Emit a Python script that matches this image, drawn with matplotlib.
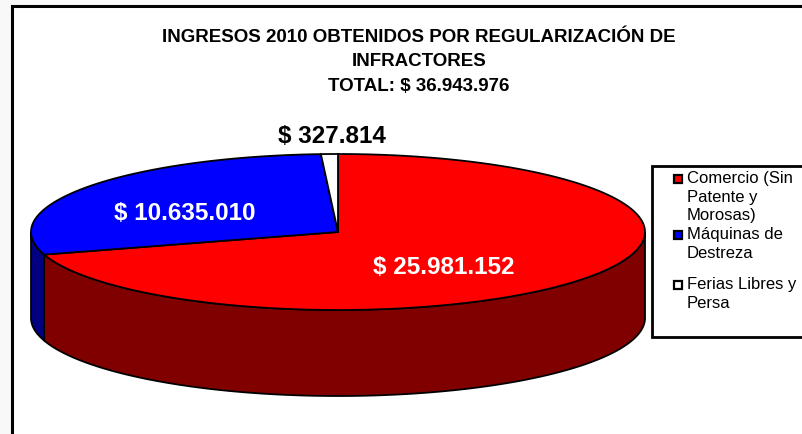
import numpy as np
import matplotlib
matplotlib.use('Agg')
import matplotlib.pyplot as plt
from matplotlib.patches import Polygon, Rectangle

plt.rcParams['font.family'] = ['Liberation Sans', 'DejaVu Sans']

# data
categories = ['Comercio (Sin\nPatente y\nMorosas)', 'Máquinas de\nDestreza', 'Ferias Libres y\nPersa']
values = [25981152, 10635010, 327814]
value_labels = ['$ 25.981.152', '$ 10.635.010', '$ 327.814']
top_colors = ['#FF0000', '#0000FF', '#FFFFFF']
side_colors = ['#800000', '#000080', '#C0C0C0']
title = 'INGRESOS 2010 OBTENIDOS POR REGULARIZACIÓN DE\nINFRACTORES\nTOTAL: $ 36.943.976'

# pie geometry in pixel units
cx, cy = 338, 233
rx, ry = 307, 78
depth = 86


def ellipse_pts(a0, a1, n=200):
    t = np.radians(np.linspace(a0, a1, n))
    return cx + rx * np.cos(t), cy - ry * np.sin(t)


fig = plt.figure(figsize=(8.03, 4.35), dpi=100, facecolor='#f8f8f8')
ax = fig.add_axes([0, 0, 1, 1])
ax.set_xlim(0, 803)
ax.set_ylim(435, 0)
ax.axis('off')

# chart frame
ax.add_patch(Rectangle((12, 7), 800, 440, facecolor='white', edgecolor='black',
                       linewidth=2.2, zorder=0))

total = sum(values)
start = 90.0
angles = []
for v in values:
    sweep = 360.0 * v / total
    angles.append((start - sweep, start))
    start -= sweep

# side walls (front half only)
for (lo, hi), col in zip(angles, side_colors):
    for k in (-360, 0, 360):
        a0 = max(lo, 180 + k)
        a1 = min(hi, 360 + k)
        if a1 <= a0:
            continue
        xs, ys = ellipse_pts(a0, a1)
        px = np.concatenate([xs, xs[::-1]])
        py = np.concatenate([ys, ys[::-1] + depth])
        ax.add_patch(Polygon(np.column_stack([px, py]), closed=True, facecolor=col,
                             edgecolor='black', linewidth=1.3, zorder=1))

# top faces
for (lo, hi), col in zip(angles, top_colors):
    xs, ys = ellipse_pts(lo, hi)
    px = np.concatenate([[cx], xs])
    py = np.concatenate([[cy], ys])
    ax.add_patch(Polygon(np.column_stack([px, py]), closed=True, facecolor=col,
                         edgecolor='black', linewidth=1.3, zorder=2))

# value labels
label_pos = [(444, 268), (185, 214), (332, 137)]
label_cols = ['white', 'white', 'black']
for txt, (lx, ly), c in zip(value_labels, label_pos, label_cols):
    ax.text(lx, ly, txt, color=c, fontsize=17.5, fontweight='bold',
            ha='center', va='center', zorder=3)

# title
ax.text(419, 62, title, fontsize=13.5, fontweight='bold', ha='center', va='center',
        linespacing=1.6)

# legend
ax.add_patch(Rectangle((652, 167), 160, 171, facecolor='white', edgecolor='black',
                       linewidth=2, zorder=3))
leg_y = [180, 236, 286]
for lab, col, y in zip(categories, top_colors, leg_y):
    ax.add_patch(Rectangle((674, y - 4), 8, 8, facecolor=col, edgecolor='black',
                           linewidth=1.6, zorder=4))
    ax.text(687, y - 9, lab, fontsize=12, ha='left', va='top', linespacing=1.3, zorder=4)

fig.savefig('out.png', dpi=100, facecolor=fig.get_facecolor())
